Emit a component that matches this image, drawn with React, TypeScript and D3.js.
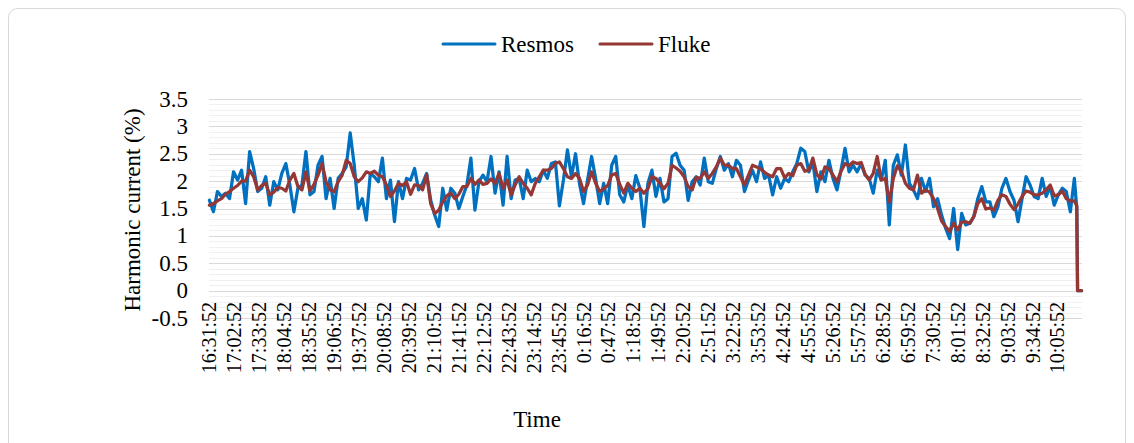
import React from "react";
import * as d3 from "d3";

// ---- data (one sample every 5 minutes) ----
const START_LABEL = "16:31:52";
const TOTAL_MINUTES = 1085;
const SAMPLE_STEP = 5;

const resmos = [
  1.65, 1.44, 1.81, 1.72, 1.78, 1.68, 2.17, 2.02, 2.2, 1.59,
  2.54, 2.23, 1.81, 1.87, 2.08, 1.56, 1.99, 1.84, 2.14, 2.32,
  1.93, 1.44, 1.87, 1.93, 2.54, 1.75, 1.81, 2.29, 2.45, 1.68,
  2.05, 1.5, 2.05, 2.14, 2.26, 2.88, 2.29, 1.5, 1.68, 1.29,
  2.14, 2.08, 1.99, 2.42, 1.68, 2.02, 1.26, 1.99, 1.68, 2.05,
  2.02, 2.23, 1.84, 1.96, 2.14, 1.65, 1.38, 1.17, 1.87, 1.47,
  1.87, 1.78, 1.5, 1.72, 1.93, 2.42, 1.47, 1.99, 2.11, 1.99,
  2.45, 1.78, 2.17, 1.56, 2.45, 1.68, 2.02, 2.05, 1.68, 2.2,
  1.99, 2.05, 1.99, 2.2, 2.05, 2.32, 2.35, 1.55, 2.02, 2.57,
  2.08, 2.5, 1.95, 1.59, 2.02, 2.45, 2.05, 1.59, 1.96, 1.59,
  2.29, 2.45, 1.75, 1.62, 1.93, 1.68, 2.1, 1.87, 1.17, 1.96,
  2.2, 1.72, 2.05, 1.62, 1.68, 2.45, 2.51, 2.29, 2.2, 1.65,
  1.99, 2.08, 1.93, 2.42, 1.99, 1.96, 2.23, 2.45, 2.2, 2.32,
  2.08, 2.38, 2.29, 1.81, 2.02, 2.2, 1.99, 2.35, 2.05, 2.11,
  1.75, 2.08, 1.87, 2.05, 1.99, 2.17, 2.32, 2.6, 2.54, 2.17,
  2.35, 1.81, 2.17, 1.99, 2.38, 2.05, 1.84, 2.2, 2.6, 2.17,
  2.29, 2.17, 2.32, 2.11, 2.05, 1.78, 2.2, 2.02, 2.38, 1.2,
  2.29, 2.48, 2.11, 2.66, 1.96, 1.84, 1.68, 2.05, 1.81, 2.05,
  1.53, 1.68, 1.38, 1.14, 0.95, 1.5, 0.75, 1.41, 1.2, 1.23,
  1.35, 1.68, 1.9, 1.62, 1.62, 1.35, 1.53, 1.87, 2.05, 1.81,
  1.65, 1.26, 1.68, 2.08, 1.93, 1.72, 1.68, 2.05, 1.72, 1.9,
  1.56, 1.75, 1.87, 1.81, 1.44, 2.05,
];

const fluke = [
  1.56, 1.59, 1.64, 1.68, 1.76, 1.81, 1.87, 1.92, 2.0, 2.0,
  2.2, 2.08, 1.84, 1.92, 1.96, 1.75, 1.8, 1.88, 1.87, 1.82,
  2.02, 2.14, 1.9, 1.84, 2.17, 1.82, 1.94, 2.11, 2.32, 1.99,
  1.84, 1.81, 1.99, 2.11, 2.38, 2.32, 2.08, 1.99, 2.06, 2.17,
  2.14, 2.18, 2.11, 2.08, 1.93, 1.72, 1.82, 1.96, 1.92, 1.99,
  1.76, 1.93, 1.92, 1.84, 2.12, 1.59, 1.41, 1.47, 1.62, 1.73,
  1.78, 1.68, 1.76, 1.9, 1.9, 2.05, 1.94, 2.02, 1.94, 1.96,
  2.04, 1.96, 2.14, 1.87, 2.02, 1.75, 1.93, 2.08, 1.96, 1.87,
  1.75, 1.96, 2.08, 2.2, 2.2, 2.23, 2.32, 2.35, 2.23, 2.08,
  2.05, 2.14, 2.05, 1.81, 1.93, 2.17, 1.96, 1.81, 1.86, 1.92,
  2.11, 2.14, 1.94, 1.78, 1.96, 1.87, 1.81, 1.87, 1.78, 1.86,
  2.08, 2.05, 1.96, 1.86, 1.96, 2.29, 2.24, 2.18, 2.08, 1.9,
  1.84, 2.07, 2.05, 2.17, 2.05, 2.14, 2.26, 2.42, 2.29, 2.29,
  2.23, 2.23, 2.08, 1.93, 2.11, 2.29, 2.26, 2.22, 2.16, 2.11,
  2.08, 2.23, 2.23, 2.06, 2.14, 2.1, 2.29, 2.32, 2.18, 2.2,
  2.42, 2.12, 2.04, 2.26, 2.23, 2.11, 1.99, 2.18, 2.32, 2.28,
  2.35, 2.32, 2.34, 2.12, 2.02, 2.14, 2.45, 2.02, 2.05, 1.62,
  2.05, 2.28, 2.18, 1.96, 1.87, 1.84, 2.11, 1.78, 1.84, 1.8,
  1.68, 1.5, 1.27, 1.17, 1.08, 1.23, 1.11, 1.25, 1.26, 1.23,
  1.35, 1.59, 1.68, 1.49, 1.51, 1.47, 1.65, 1.75, 1.72, 1.58,
  1.48, 1.58, 1.72, 1.82, 1.8, 1.75, 1.75, 1.78, 1.84, 1.93,
  1.73, 1.75, 1.82, 1.68, 1.64, 1.64,
];

// last readings: the measurement ends with a drop to zero
const endMinutes = [1078, 1079, 1084];
const resmosEnd = [1.5, 0, 0];
const flukeEnd = [1.55, 0, 0];

const tickLabels = [
  "16:31:52", "17:02:52", "17:33:52", "18:04:52", "18:35:52", "19:06:52",
  "19:37:52", "20:08:52", "20:39:52", "21:10:52", "21:41:52", "22:12:52",
  "22:43:52", "23:14:52", "23:45:52", "0:16:52", "0:47:52", "1:18:52",
  "1:49:52", "2:20:52", "2:51:52", "3:22:52", "3:53:52", "4:24:52",
  "4:55:52", "5:26:52", "5:57:52", "6:28:52", "6:59:52", "7:30:52",
  "8:01:52", "8:32:52", "9:03:52", "9:34:52", "10:05:52",
];
const TICK_INTERVAL = 31; // minutes between labels

const yTicks = [-0.5, 0, 0.5, 1, 1.5, 2, 2.5, 3, 3.5];

const seriesNames = ["Resmos", "Fluke"];
const seriesColors = ["#0070C0", "#953735"];

const FONT = "'Liberation Serif', 'Times New Roman', serif";

type Pt = { m: number; v: number };

function buildSeries(vals: number[], endVals: number[]): Pt[] {
  const pts: Pt[] = vals.map((v, i) => ({ m: i * SAMPLE_STEP, v }));
  endMinutes.forEach((m, i) => pts.push({ m, v: endVals[i] }));
  return pts;
}

export default function App() {
  const W = 1134;
  const H = 443;
  const plot = { left: 209, right: 1082, top: 99, bottom: 318 };

  const x = d3
    .scaleLinear()
    .domain([-0.5, TOTAL_MINUTES - 0.5])
    .range([plot.left, plot.right]);
  const y = d3.scaleLinear().domain([-0.5, 3.5]).range([plot.bottom, plot.top]);

  const line = d3
    .line<Pt>()
    .x((d) => x(d.m))
    .y((d) => y(d.v));

  const minorTicks = d3.range(-5, 36).map((k) => k / 10);

  const series = [buildSeries(resmos, resmosEnd), buildSeries(fluke, flukeEnd)];

  return (
    <svg
      width={W}
      height={H}
      style={{ position: "absolute", left: 0, top: 0, display: "block", background: "#fff" }}
      fontFamily={FONT}
    >
      <rect x={8.5} y={8.5} width={1117} height={460} rx={9} fill="#fff" stroke="#D9D9D9" strokeWidth={1} />

      {/* minor gridlines */}
      {minorTicks.map((t) => (
        <line
          key={"mi" + t}
          x1={plot.left}
          x2={plot.right}
          y1={Math.round(y(t)) + 0.5}
          y2={Math.round(y(t)) + 0.5}
          stroke="#F0F0F0"
          strokeWidth={1}
        />
      ))}
      {/* major gridlines */}
      {yTicks.map((t) => (
        <line
          key={"ma" + t}
          x1={plot.left}
          x2={plot.right}
          y1={Math.round(y(t)) + 0.5}
          y2={Math.round(y(t)) + 0.5}
          stroke="#D9D9D9"
          strokeWidth={1}
        />
      ))}

      {/* y tick labels */}
      {yTicks.map((t) => (
        <text
          key={"yl" + t}
          x={188}
          y={y(t)}
          textAnchor="end"
          dominantBaseline="central"
          fontSize={23}
          fill="#000"
        >
          {t}
        </text>
      ))}

      {/* x tick labels */}
      {tickLabels.map((lab, i) => {
        const cx = x(i * TICK_INTERVAL);
        return (
          <text
            key={lab}
            transform={`translate(${cx},302) rotate(-90)`}
            textAnchor="end"
            dominantBaseline="central"
            fontSize={20}
            fill="#000"
          >
            {lab}
          </text>
        );
      })}

      {/* series */}
      {series.map((s, k) => (
        <path
          key={seriesNames[k]}
          d={line(s) || ""}
          fill="none"
          stroke={seriesColors[k]}
          strokeWidth={3.25}
          strokeLinejoin="round"
          strokeLinecap="round"
        />
      ))}

      {/* axis titles */}
      <text
        transform={`translate(132,210) rotate(-90)`}
        textAnchor="middle"
        dominantBaseline="central"
        fontSize={23}
        fill="#000"
      >
        Harmonic current (%)
      </text>
      <text x={537} y={419} textAnchor="middle" dominantBaseline="central" fontSize={23} fill="#000">
        Time
      </text>

      {/* legend */}
      {seriesNames.map((name, k) => {
        const lx = k === 0 ? 443 : 600;
        return (
          <g key={"lg" + name}>
            <line x1={lx} x2={lx + 52} y1={44} y2={44} stroke={seriesColors[k]} strokeWidth={3} strokeLinecap="round" />
            <text x={lx + 58} y={44} dominantBaseline="central" fontSize={23} fill="#000">
              {name}
            </text>
          </g>
        );
      })}
      <title>{START_LABEL}</title>
    </svg>
  );
}
